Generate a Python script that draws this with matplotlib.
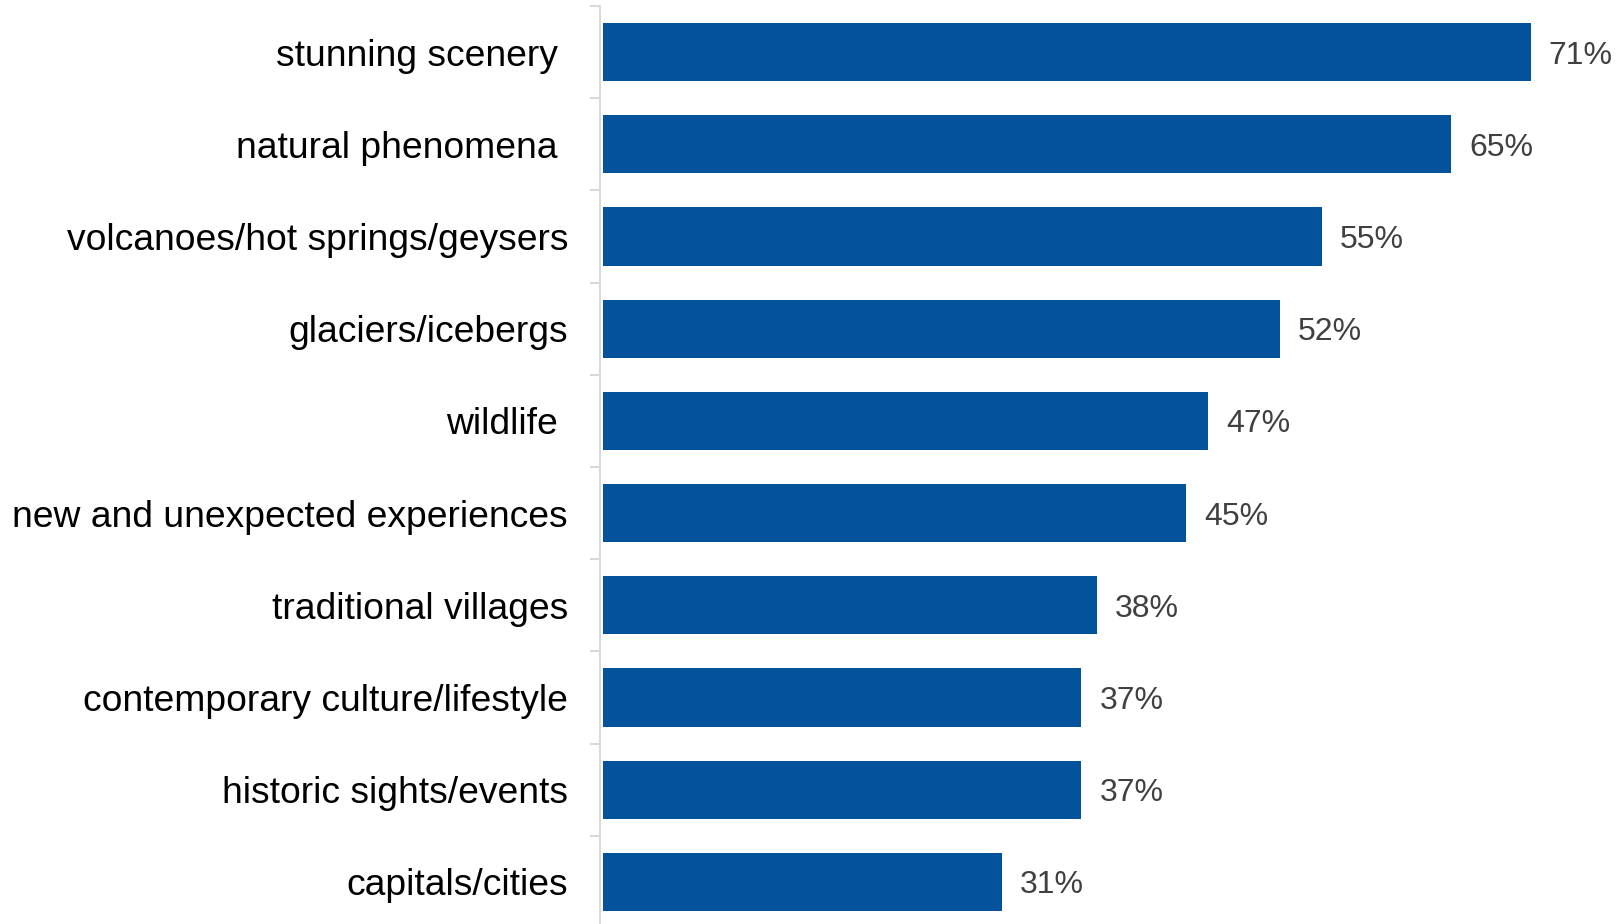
import matplotlib
matplotlib.use("Agg")
import matplotlib.pyplot as plt
import matplotlib.transforms as mtransforms
import numpy as np

categories = ["stunning scenery ", "natural phenomena ", "volcanoes/hot springs/geysers",
              "glaciers/icebergs", "wildlife ", "new and unexpected experiences",
              "traditional villages", "contemporary culture/lifestyle",
              "historic sights/events", "capitals/cities"]
# bar lengths as drawn, and the labels printed next to them
values = [71, 64.9, 55, 51.8, 46.3, 44.6, 37.8, 36.6, 36.6, 30.5]
labels = ["71%", "65%", "55%", "52%", "47%", "45%", "38%", "37%", "37%", "31%"]

plt.rcParams['font.family'] = ['Liberation Sans', 'DejaVu Sans']

fig = plt.figure(figsize=(16.17, 9.24), dpi=100)
ax = fig.add_axes([600 / 1617, -0.0043, 1017 / 1617, 0.9978])

y = np.arange(len(categories))
ax.barh(y, values, height=0.63, color='#03539c', left=0)

for yi, v, lab in zip(y, values, labels):
    ax.text(v + 1.38, yi, lab, va='center_baseline', ha='left', fontsize=23, color='#404040')

ax.set_xlim(-0.23, 77.6)
ax.set_ylim(len(categories) - 0.5, -0.5)
ax.set_yticks(y)
ax.set_yticklabels(categories)
ax.set_yticks(np.arange(len(categories) + 1) - 0.5, minor=True)
ax.tick_params(axis='y', which='major', length=0, pad=23, labelsize=26.8, labelcolor='black')
ax.tick_params(axis='y', which='minor', length=7, color='#d9d9d9', width=1.5)
ax.set_xticks([])

# nudge the category labels up a little
up = mtransforms.ScaledTranslation(0, 2 / 100, fig.dpi_scale_trans)
for t in ax.get_yticklabels():
    t.set_transform(t.get_transform() + up)

for s in ['top', 'right', 'bottom']:
    ax.spines[s].set_visible(False)
ax.spines['left'].set_color('#d9d9d9')
ax.spines['left'].set_linewidth(1.5)
ax.spines['left'].set_position(('data', -0.23))

fig.savefig("out.png", dpi=100)
